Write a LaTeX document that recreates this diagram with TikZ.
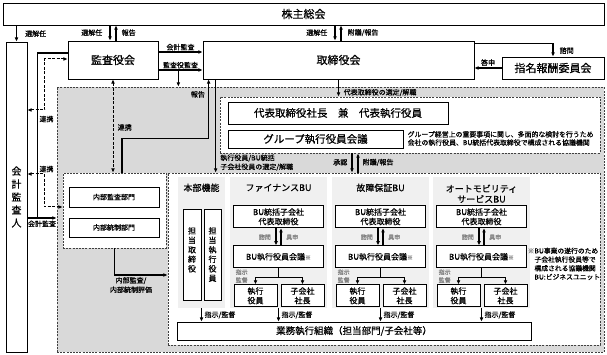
\documentclass[tikz,border=0pt]{standalone}
\usepackage{fontspec}
\setmainfont{Noto Sans CJK JP}[FakeBold=0.6]
\usetikzlibrary{arrows.meta}
\definecolor{labgray}{gray}{0.5}
\definecolor{areagray}{gray}{0.85}
\definecolor{panelgray}{gray}{0.94}
\newcommand{\jpsize}[1]{\fontsize{#1}{#1}\selectfont}
\tikzset{
  box/.style={draw, line width=0.7pt, fill=white, inner sep=0pt, align=center},
  area/.style={draw=black!75, dash pattern=on 2pt off 1.2pt, line width=0.8pt, inner sep=0pt},
  panel/.style={fill=panelgray, inner sep=0pt},
  arr/.style={-{Latex[length=4.2pt,width=3.8pt]}, line width=1.2pt},
  darr/.style={{Latex[length=4.2pt,width=3.8pt]}-{Latex[length=4.2pt,width=3.8pt]}, line width=1pt, dash pattern=on 3pt off 1.5pt},
  lab/.style={inner sep=0.5pt, font=\fontsize{7}{9.5}\selectfont, align=left},
  glab/.style={inner sep=0.5pt, text=labgray, font=\fontsize{6}{8}\selectfont, align=left},
  ttl/.style={inner sep=0pt, font=\fontsize{9}{10.5}\selectfont, align=center},
  bubox/.style={box, font=\fontsize{8}{9.5}\selectfont},
}

\begin{document}
\begin{tikzpicture}[x=1pt,y=-1pt]
  \useasboundingbox (0,0) rectangle (607,355);

  % governance bodies
  \node[box, minimum width=601pt, minimum height=22pt, font=\jpsize{11}] (kabu) at (303.5,14) {株主総会};
  \node[box, minimum width=21pt, minimum height=310pt, font=\fontsize{10}{13}\selectfont] (kaikei) at (16.5,197) {会\\計\\監\\査\\人};
  \node[box, minimum width=90pt, minimum height=38pt, font=\jpsize{11}] (kansa) at (113,60) {監査役会};
  \node[box, minimum width=271pt, minimum height=38pt, font=\jpsize{11}] (tori) at (338.5,60) {取締役会};
  \node[box, minimum width=102pt, minimum height=22pt, font=\jpsize{11}] (shimei) at (553,68) {指名報酬委員会};

  % areas
  \node[area, fill=areagray, minimum width=547pt, minimum height=265pt] (exec) at (330.5,219.5) {};
  \node[area, fill=white, minimum width=380pt, minimum height=56pt] (dai) at (410,125) {};
  \node[area, fill=white, minimum width=103pt, minimum height=75pt] (nb) at (114.5,210.5) {};
  \node[area, fill=white, minimum width=432pt, minimum height=172pt] (bu) at (384,259) {};

  % top management
  \node[box, minimum width=220pt, minimum height=22pt, font=\jpsize{10.5}] (shacho) at (338,113) {代表取締役社長　兼　代表執行役員};
  \node[box, minimum width=175pt, minimum height=18pt, font=\jpsize{10.5}] (group) at (315.5,139) {グループ執行役員会議};
  \node[lab, anchor=west, font=\fontsize{6.9}{8.2}\selectfont] (groupnote) at (407,138.5) {グループ経営上の重要事項に関し、多面的な検討を行うため\\会社の執行役員、BU統括代表取締役で構成される協議機関};

  % internal audit / control
  \node[box, minimum width=90pt, minimum height=20pt, font=\jpsize{7}] (iaudit) at (114,197) {内部監査部門};
  \node[box, minimum width=90pt, minimum height=19pt, font=\jpsize{7}] (ictrl) at (114,227.5) {内部統制部門};

  % operating organisation
  \node[box, minimum width=354pt, minimum height=18pt, font=\jpsize{9.5}] (gyomu) at (354,331) {業務執行組織（担当部門/子会社等）};

  % headquarters column
  \node[panel, minimum width=47pt, minimum height=131pt] (hbP) at (201.5,242.5) {};
  \node[ttl] (hbT) at ([yshift=-11pt]hbP.north) {本部機能};
  \node[bubox, minimum width=18pt, minimum height=91pt] (hbDir) at (192,254.5) {担\\当\\取\\締\\役\\\phantom{役}};
  \node[bubox, minimum width=17pt, minimum height=91pt] (hbOff) at (212.5,254.5) {担\\当\\執\\行\\役\\員};
  \draw[arr] (hbP.south) -- (hbP.south |- gyomu.north) node[lab, midway, right=2pt] {指示/監督};

  % finance BU
  \node[panel, minimum width=97pt, minimum height=131pt] (finP) at (278.5,242.5) {};
  \node[ttl] (finT) at ([yshift=-11pt]finP.north) {ファイナンスBU};
  \node[bubox, minimum width=90pt, minimum height=22pt] (finTop) at ([yshift=-40pt]finP.north) {BU統括子会社\\代表取締役};
  \node[bubox, minimum width=90pt, minimum height=22pt] (finMeet) at ([yshift=-80pt]finP.north) {BU執行役員会議{\color{labgray}\jpsize{6}※}};
  \node[bubox, minimum width=43pt, minimum height=22pt] (finExe) at ([xshift=-23pt,yshift=-119pt]finP.north) {執行\\役員};
  \node[bubox, minimum width=43pt, minimum height=22pt] (finPres) at ([xshift=24pt,yshift=-119pt]finP.north) {子会社\\社長};
  \draw[arr] ([xshift=-2.5pt]finTop.south) -- ([xshift=-2.5pt]finMeet.north);
  \draw[arr] ([xshift=2.5pt]finMeet.north) -- ([xshift=2.5pt]finTop.south);
  \node[glab, anchor=east] at ([xshift=-7pt,yshift=-9pt]finTop.south) {諮問};
  \node[glab, anchor=west] at ([xshift=7pt,yshift=-9pt]finTop.south) {具申};
  \draw[arr, line width=1pt] (finMeet.south) -- ++(0,9) -| (finExe.north);
  \draw[arr, line width=1pt] (finMeet.south) ++(0,9) -| (finPres.north);
  \node[glab, anchor=west] at ([xshift=-43.5pt,yshift=-8pt]finMeet.south) {指示\\監督};
  \draw[arr] (finP.south) -- (finP.south |- gyomu.north) node[lab, midway, right=2pt] {指示/監督};

  % warranty BU
  \node[panel, minimum width=97pt, minimum height=131pt] (kosP) at (380.5,242.5) {};
  \node[ttl] (kosT) at ([yshift=-11pt]kosP.north) {故障保証BU};
  \node[bubox, minimum width=90pt, minimum height=22pt] (kosTop) at ([yshift=-40pt]kosP.north) {BU統括子会社\\代表取締役};
  \node[bubox, minimum width=90pt, minimum height=22pt] (kosMeet) at ([yshift=-80pt]kosP.north) {BU執行役員会議{\color{labgray}\jpsize{6}※}};
  \node[bubox, minimum width=43pt, minimum height=22pt] (kosExe) at ([xshift=-23pt,yshift=-119pt]kosP.north) {執行\\役員};
  \node[bubox, minimum width=43pt, minimum height=22pt] (kosPres) at ([xshift=24pt,yshift=-119pt]kosP.north) {子会社\\社長};
  \draw[arr] ([xshift=-2.5pt]kosTop.south) -- ([xshift=-2.5pt]kosMeet.north);
  \draw[arr] ([xshift=2.5pt]kosMeet.north) -- ([xshift=2.5pt]kosTop.south);
  \node[glab, anchor=east] at ([xshift=-7pt,yshift=-9pt]kosTop.south) {諮問};
  \node[glab, anchor=west] at ([xshift=7pt,yshift=-9pt]kosTop.south) {具申};
  \draw[arr, line width=1pt] (kosMeet.south) -- ++(0,9) -| (kosExe.north);
  \draw[arr, line width=1pt] (kosMeet.south) ++(0,9) -| (kosPres.north);
  \node[glab, anchor=west] at ([xshift=-43.5pt,yshift=-8pt]kosMeet.south) {指示\\監督};
  \draw[arr] (kosP.south) -- (kosP.south |- gyomu.north) node[lab, midway, right=2pt] {指示/監督};

  % automobility service BU
  \node[panel, minimum width=97pt, minimum height=131pt] (autP) at (481.5,242.5) {};
  \node[ttl] (autT) at ([yshift=-17pt]autP.north) {オートモビリティ\\サービスBU};
  \node[bubox, minimum width=90pt, minimum height=22pt] (autTop) at ([yshift=-40pt]autP.north) {BU統括子会社\\代表取締役};
  \node[bubox, minimum width=90pt, minimum height=22pt] (autMeet) at ([yshift=-80pt]autP.north) {BU執行役員会議{\color{labgray}\jpsize{6}※}};
  \node[bubox, minimum width=43pt, minimum height=22pt] (autExe) at ([xshift=-23pt,yshift=-119pt]autP.north) {執行\\役員};
  \node[bubox, minimum width=43pt, minimum height=22pt] (autPres) at ([xshift=24pt,yshift=-119pt]autP.north) {子会社\\社長};
  \draw[arr] ([xshift=-2.5pt]autTop.south) -- ([xshift=-2.5pt]autMeet.north);
  \draw[arr] ([xshift=2.5pt]autMeet.north) -- ([xshift=2.5pt]autTop.south);
  \node[glab, anchor=east] at ([xshift=-7pt,yshift=-9pt]autTop.south) {諮問};
  \node[glab, anchor=west] at ([xshift=7pt,yshift=-9pt]autTop.south) {具申};
  \draw[arr, line width=1pt] (autMeet.south) -- ++(0,9) -| (autExe.north);
  \draw[arr, line width=1pt] (autMeet.south) ++(0,9) -| (autPres.north);
  \node[glab, anchor=west] at ([xshift=-43.5pt,yshift=-8pt]autMeet.south) {指示\\監督};
  \draw[arr] (autP.south) -- (autP.south |- gyomu.north) node[lab, midway, right=2pt] {指示/監督};

  \node[lab, anchor=north west, font=\fontsize{6.8}{8.7}\selectfont] (bunote) at (527,247) {{\color{labgray}※}BU事業の遂行のため\\\hspace*{6.8pt}子会社執行役員等で\\\hspace*{6.8pt}構成される協議機関\\\hspace*{6.8pt}BU:ビジネスユニット};

  % shareholders meeting
  \coordinate (kaS) at ([xshift=-3pt]kansa.north);
  \coordinate (kaR) at ([xshift=3pt]kansa.north);
  \coordinate (toS) at ([xshift=-3.5pt]tori.north);
  \coordinate (toR) at ([xshift=2.5pt]tori.north);
  \draw[arr] (kaikei.north |- kabu.south) -- (kaikei.north);
  \node[lab, anchor=west] at ([xshift=8pt,yshift=8pt]kaikei.north) {選解任};
  \draw[arr] (kaS |- kabu.south) -- (kaS);
  \draw[arr] (kaR) -- (kaR |- kabu.south);
  \node[lab, anchor=east] at ([xshift=-7pt,yshift=8pt]kaS) {選解任};
  \node[lab, anchor=west] at ([xshift=5pt,yshift=8pt]kaR) {報告};
  \draw[arr] (toS |- kabu.south) -- (toS);
  \draw[arr] (toR) -- (toR |- kabu.south);
  \node[lab, anchor=east] at ([xshift=-7pt,yshift=8pt]toS) {選解任};
  \node[lab, anchor=west] at ([xshift=6pt,yshift=8pt]toR) {附議/報告};

  % board and committees
  \draw[arr] ([yshift=-3pt]tori.north east) -| (shimei.north);
  \node[lab, anchor=west] at ([xshift=6pt,yshift=6pt]shimei.north) {諮問};
  \draw[arr] (shimei.west) -- (shimei.west -| tori.east) node[lab, midway, above=1pt] {答申};
  \draw[arr] ([yshift=8pt]kansa.east) -- ([yshift=8pt]kansa.east -| tori.west) node[lab, midway, above=0.5pt] {会計監査};
  \draw[arr] ([yshift=-10pt]kansa.east) -- ([yshift=-10pt]kansa.east -| tori.west) node[lab, midway, above=0.5pt] {監査役監査};
  \coordinate (kk) at ([xshift=20pt,yshift=-10pt]kansa.east);
  \draw[arr] (kk) -- (kk |- exec.north);

  % board to execution
  \coordinate (dn) at (tori.south |- dai.north);
  \draw[arr] (tori.south) -- (dn);
  \node[lab, anchor=west] at ([xshift=4.5pt,yshift=4pt]dn) {代表取締役の選定/解職};
  \coordinate (sel) at ([xshift=13pt]tori.south west);
  \coordinate (sel2) at (sel |- bu.north);
  \draw[arr] (sel) -- (sel2);
  \node[lab, anchor=west, font=\fontsize{7}{9}\selectfont] at ([xshift=4pt,yshift=10pt]sel2) {執行役員/BU統括\\子会社役員の選定/解職};
  \coordinate (rp) at ([xshift=6pt]tori.south west);
  \draw[arr, line width=1.4pt] ([xshift=7.5pt]nb.north) -- ++(0,-34) -| (rp);
  \node[lab, anchor=east] at ([xshift=3pt,yshift=-15pt]tori.south west) {報告};
  \coordinate (apD) at ([xshift=-58pt]dai.south);
  \coordinate (apU) at ([xshift=-52pt]dai.south);
  \draw[arr] (apD) -- (apD |- bu.north);
  \draw[arr] (apU |- bu.north) -- (apU);
  \node[lab, anchor=east] at ([xshift=-4pt,yshift=-9pt]apD) {承認};
  \node[lab, anchor=west] at ([xshift=4pt,yshift=-9pt]apU) {附議/報告};

  % audit links
  \draw[darr] (kansa.south) -- (kansa.south |- nb.north);
  \node[lab, anchor=west] at ([xshift=4pt,yshift=-48pt]kansa.south) {連携};
  \coordinate (ka) at ([yshift=-21pt]kaikei.east);
  \draw[line width=1.4pt] ([yshift=7pt]kansa.west) -| ([xshift=10pt]ka);
  \draw[arr] (ka) -- (ka -| exec.west) node[lab, midway, below=1.5pt] {会計監査};
  \draw[darr] ([yshift=87pt]kaikei.east) -| ([xshift=-23pt,yshift=1pt]kansa.west) -- ([yshift=1pt]kansa.west);
  \node[lab] at (46.5,119) {連携};
  \draw[darr] ([yshift=23pt]kaikei.east) -| ([xshift=-18pt,yshift=3.5pt]nb.west) -- ([yshift=3.5pt]nb.west);
  \node[lab] at (46.5,169) {連携};
  \draw[arr] (nb.south) |- ([yshift=-16pt]bu.west);
  \node[lab, align=center] at (131,285) {内部監査/\\内部統制評価};
\end{tikzpicture}
\end{document}
